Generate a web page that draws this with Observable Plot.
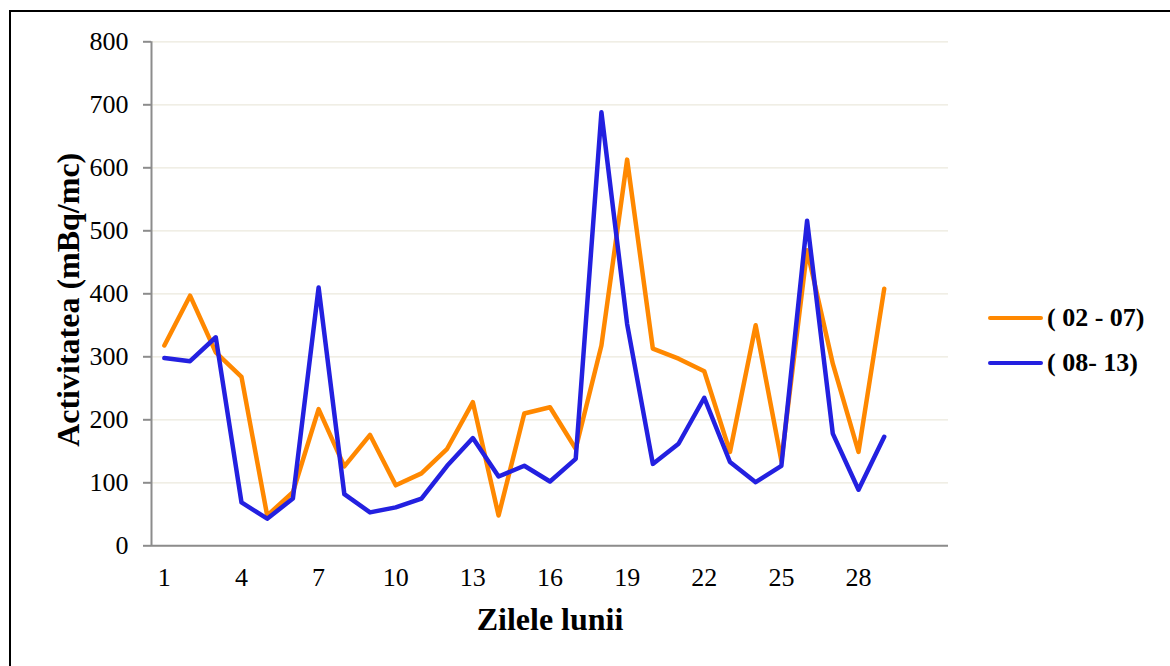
<!DOCTYPE html>
<html><head><meta charset="utf-8">
<script src="https://cdn.jsdelivr.net/npm/d3@7"></script>
<script src="https://cdn.jsdelivr.net/npm/@observablehq/plot@0.6"></script>
<style>
html,body{margin:0;padding:0;background:#fff;}
#wrap{position:relative;width:1170px;height:666px;overflow:hidden;font-family:"Liberation Serif","Times New Roman",serif;}
#wrap svg{position:absolute;left:0;top:0;}
#border{position:absolute;left:9px;top:10px;width:1200px;height:700px;border:2px solid #000;box-sizing:border-box;}
.leg{position:absolute;left:988px;height:26px;display:flex;align-items:center;font-weight:bold;font-size:26px;color:#000;white-space:pre;}
.sw{width:55px;height:4.5px;border-radius:2px;margin-right:4px;}
svg [aria-label="y-axis tick"] path{stroke:#8c8c8c;stroke-width:2px;}
</style></head>
<body>
<div id="wrap"><div id="border"></div></div>
<script>
// ---- data ----
const days = [1,2,3,4,5,6,7,8,9,10,11,12,13,14,15,16,17,18,19,20,21,22,23,24,25,26,27,28,29];
const seriesNames = ["( 02 - 07)", "( 08- 13)"];
const seriesColors = ["#ff8800", "#2320e0"];
const values0207 = [318,397,307,268,48,85,217,126,176,96,115,154,228,48,210,220,154,318,613,313,297,277,149,350,135,469,289,149,408];
const values0813 = [298,293,331,69,43,75,410,82,53,61,75,127,171,110,127,102,138,688,352,130,162,235,133,101,127,516,178,89,173];
const xTicks = [1,4,7,10,13,16,19,22,25,28];
const yTicks = [0,100,200,300,400,500,600,700,800];
const xDomain = [0.5, 31.5];
const yDomain = [0, 800];
const xTitle = "Zilele lunii";
const yTitle = "Activitatea (mBq/mc)";

const rows = [];
days.forEach((d, i) => {
  rows.push({day: d, value: values0207[i], series: seriesNames[0]});
  rows.push({day: d, value: values0813[i], series: seriesNames[1]});
});

const chart = Plot.plot({
  width: 1170,
  height: 666,
  marginLeft: 151,
  marginRight: 222,
  marginTop: 41.3,
  marginBottom: 120.7,
  style: {fontFamily: "'Liberation Serif','Times New Roman',serif", fontSize: "26px", color: "#000", background: "transparent"},
  x: {type: "linear", domain: xDomain},
  y: {domain: yDomain},
  color: {domain: seriesNames, range: seriesColors},
  marks: [
    Plot.gridY(yTicks, {stroke: "#ebe9dd", strokeOpacity: 1, strokeWidth: 1.2}),
    Plot.ruleY([0], {stroke: "#8c8c8c", strokeWidth: 2}),
    Plot.ruleX([xDomain[0]], {stroke: "#8c8c8c", strokeWidth: 2}),
    Plot.axisY(yTicks, {tickSize: 8, tickPadding: 15, fontSize: 26, label: null, tickFormat: d => String(d)}),
    Plot.axisX(xTicks, {tickSize: 0, tickPadding: 22, fontSize: 26, label: null, tickFormat: d => String(d)}),
    Plot.line(rows, {x: "day", y: "value", z: "series", stroke: "series", strokeWidth: 4.5, strokeLinejoin: "round", strokeLinecap: "round"}),
    Plot.text([xTitle], {frameAnchor: "bottom", lineAnchor: "middle", textAnchor: "middle", dy: 73.8, fontSize: 32, fontWeight: "bold", fill: "#000"}),
    Plot.text([yTitle], {frameAnchor: "left", lineAnchor: "middle", textAnchor: "middle", rotate: -90, dx: -83, dy: 6, fontSize: 32, fontWeight: "bold", fill: "#000"})
  ]
});

const wrap = document.getElementById("wrap");
wrap.insertBefore(chart, wrap.firstChild);

const legTops = [305, 350];
seriesNames.forEach((name, i) => {
  const item = document.createElement("div");
  item.className = "leg";
  item.style.top = legTops[i] + "px";
  const sw = document.createElement("span");
  sw.className = "sw";
  sw.style.background = seriesColors[i];
  const tx = document.createElement("span");
  tx.textContent = name;
  item.appendChild(sw);
  item.appendChild(tx);
  wrap.appendChild(item);
});
</script>
</body></html>
